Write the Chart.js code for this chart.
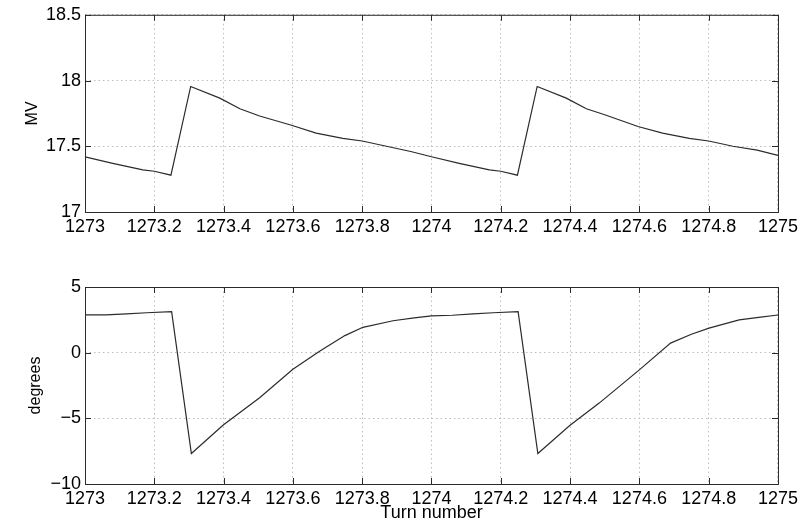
<!DOCTYPE html>
<html>
<head>
<meta charset="utf-8">
<script src="https://cdn.jsdelivr.net/npm/chart.js@4"></script>
<style>
    html, body { margin: 0; padding: 0; background: #fff; }
    #wrap { position: relative; width: 802px; height: 522px; overflow: hidden; }
    canvas { position: absolute; left: 0; }
    #mvChart { top: 0; }
    #degChart { top: 260px; }
</style>
</head>
<body>
<div id="wrap">
    <canvas id="mvChart" width="802" height="260"></canvas>
    <canvas id="degChart" width="802" height="262"></canvas>
</div>
<script>
// -- DATA --
const mvTurns = [1273.00, 1273.08, 1273.167, 1273.20, 1273.248, 1273.305, 1273.389, 1273.447, 1273.504,
    1273.596, 1273.667, 1273.744, 1273.80, 1273.87, 1273.94, 1274.00, 1274.08, 1274.167, 1274.20, 1274.248,
    1274.305, 1274.389, 1274.447, 1274.50, 1274.596, 1274.667, 1274.744, 1274.80, 1274.87, 1274.94, 1275.00];
const mvValues = [17.42, 17.37, 17.32, 17.31, 17.28, 17.955, 17.866, 17.785, 17.73,
    17.66, 17.60, 17.56, 17.54, 17.50, 17.46, 17.42, 17.37, 17.32, 17.31, 17.28,
    17.955, 17.866, 17.785, 17.74, 17.65, 17.60, 17.56, 17.54, 17.50, 17.47, 17.43];

const degTurns = [1273.00, 1273.06, 1273.12, 1273.178, 1273.25, 1273.307, 1273.399, 1273.504, 1273.60, 1273.677,
    1273.75, 1273.802, 1273.889, 1273.95, 1274.00, 1274.06, 1274.12, 1274.178, 1274.25, 1274.307, 1274.399,
    1274.484, 1274.599, 1274.69, 1274.75, 1274.801, 1274.888, 1274.95, 1275.00];
const degValues = [2.87, 2.87, 2.95, 3.04, 3.12, -7.68, -5.51, -3.43, -1.27, 0.10,
    1.3, 1.93, 2.43, 2.65, 2.80, 2.85, 2.95, 3.04, 3.12, -7.68, -5.55,
    -3.84, -1.33, 0.73, 1.4, 1.87, 2.49, 2.7, 2.87];

const turnTicks = [1273, 1273.2, 1273.4, 1273.6, 1273.8, 1274, 1274.2, 1274.4, 1274.6, 1274.8, 1275];
const mvTicks = [17, 17.5, 18, 18.5];
const degTicks = [-10, -5, 0, 5];

const FONT = "'Liberation Sans', Arial, Helvetica, sans-serif";
const INK = '#2b2b2b';

// MATLAB-style box with inward ticks
const boxPlugin = {
    id: 'matlabBox',
    afterDraw(chart) {
        const { ctx, chartArea: a, scales: { x, y } } = chart;
        ctx.save();
        ctx.strokeStyle = INK;
        ctx.lineWidth = 1;
        ctx.strokeRect(a.left + 0.5, a.top + 0.5, a.right - a.left, a.bottom - a.top);
        ctx.beginPath();
        x.ticks.forEach(t => {
            const px = Math.round(x.getPixelForValue(t.value)) + 0.5;
            ctx.moveTo(px, a.bottom); ctx.lineTo(px, a.bottom - 6);
            ctx.moveTo(px, a.top); ctx.lineTo(px, a.top + 6);
        });
        y.ticks.forEach(t => {
            const py = Math.round(y.getPixelForValue(t.value)) + 0.5;
            ctx.moveTo(a.left, py); ctx.lineTo(a.left + 6, py);
            ctx.moveTo(a.right, py); ctx.lineTo(a.right - 6, py);
        });
        ctx.stroke();
        ctx.restore();
    }
};

function fmt(v) {
    return String(+v.toFixed(1)).replace('-', '\u2212');
}

function makeChart(id, turns, values, yTicks, yTitle, titlePad, pad, xHeight, showXTitle) {
    const points = turns.map((t, i) => ({ x: t, y: values[i] }));
    return new Chart(document.getElementById(id), {
        type: 'line',
        data: {
            datasets: [{
                data: points,
                borderColor: INK,
                borderWidth: 1.2,
                pointRadius: 0,
                tension: 0,
                fill: false
            }]
        },
        plugins: [boxPlugin],
        options: {
            responsive: false,
            animation: false,
            events: [],
            layout: { padding: pad },
            plugins: { legend: { display: false }, tooltip: { enabled: false } },
            scales: {
                x: {
                    type: 'linear',
                    min: turnTicks[0],
                    max: turnTicks[turnTicks.length - 1],
                    afterBuildTicks: s => { s.ticks = turnTicks.map(v => ({ value: v })); },
                    afterFit: s => { s.height = xHeight; },
                    grid: { color: '#bdbdbd', lineWidth: 1, drawTicks: false },
                    border: { display: false, dash: [1.5, 3] },
                    ticks: { color: '#000', padding: 4, font: { family: FONT, size: 18 }, callback: fmt, maxRotation: 0, autoSkip: false },
                    title: {
                        display: showXTitle,
                        text: 'Turn number',
                        color: '#000',
                        font: { family: FONT, size: 18, lineHeight: 1 },
                        padding: 0
                    }
                },
                y: {
                    min: yTicks[0],
                    max: yTicks[yTicks.length - 1],
                    afterBuildTicks: s => { s.ticks = yTicks.map(v => ({ value: v })); },
                    afterFit: s => { s.width = 85; },
                    grid: { color: '#bdbdbd', lineWidth: 1, drawTicks: false },
                    border: { display: false, dash: [1.5, 3] },
                    ticks: { color: '#000', padding: 4, font: { family: FONT, size: 18 }, callback: fmt },
                    title: {
                        display: true,
                        text: yTitle,
                        color: '#000',
                        font: { family: FONT, size: 16 },
                        padding: { top: titlePad, bottom: 0 }
                    }
                }
            }
        }
    });
}

makeChart('mvChart', mvTurns, mvValues, mvTicks, 'MV', 23, { left: 0, right: 23, top: 14, bottom: 0 }, 48, false);
makeChart('degChart', degTurns, degValues, degTicks, 'degrees', 26, { left: 0, right: 23, top: 27, bottom: 0 }, 38, true);
</script>
</body>
</html>
